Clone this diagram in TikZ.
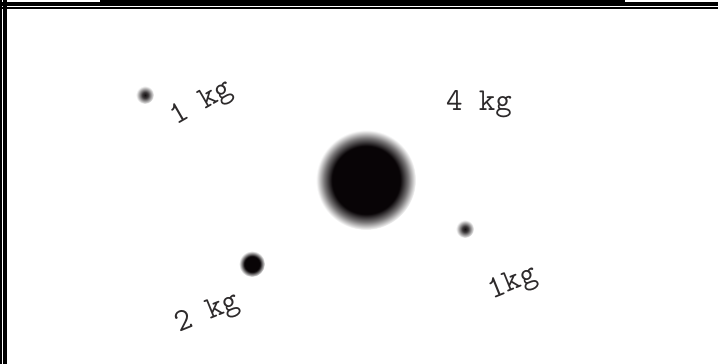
\documentclass[tikz,border=0pt]{standalone}
\usepackage{tikz}
\usetikzlibrary{positioning}
\definecolor{ink}{RGB}{8,4,6}
\pgfdeclareradialshading{bigblob}{\pgfpoint{0bp}{0bp}}{color(0bp)=(ink); color(17bp)=(ink); color(21bp)=(ink!55); color(25bp)=(white); color(50bp)=(white)}
\pgfdeclareradialshading{midblob}{\pgfpoint{0bp}{0bp}}{color(0bp)=(ink); color(15bp)=(ink); color(25bp)=(white); color(50bp)=(white)}
\pgfdeclareradialshading{smallblob}{\pgfpoint{0bp}{0bp}}{color(0bp)=(ink!95); color(8bp)=(ink!80); color(25bp)=(white); color(50bp)=(white)}
\tikzset{
  mass/.style ={circle, inner sep=0pt, draw=none},
  lbl/.style  ={font=\fontsize{32}{34}\selectfont\ttfamily, text=ink!85, inner sep=1pt},
  rim/.style  ={fill=black, draw=none},
}
\begin{document}
\begin{tikzpicture}[x=1pt,y=-1pt]
\useasboundingbox (0,0) rectangle (718,364);

% frame
\fill[rim] (0,0) rectangle (2.3,364);
\fill[rim] (3.3,0) rectangle (6.7,364);
\fill[rim] (0,2) rectangle (718,6);
\fill[rim] (0,7) rectangle (718,9);
\fill[rim] (100,0) rectangle (625,2);

% masses
\node[mass, minimum size=100pt, shading=bigblob] (m4) at (366,180) {};
\node[mass, minimum size=18pt, shading=smallblob] (m1a) at (145,95) {};
\node[mass, minimum size=18pt, shading=smallblob] (m1b) at (465,229) {};
\node[mass, minimum size=26pt, shading=midblob] (m2) at (252,264) {};

% labels
\node[lbl, rotate=30] (l1a) at (202,104) {1 kg};
\node[lbl] (l4) at (479,104) {4 kg};
\node[lbl, rotate=22] (l1b) at (513,284) {1kg};
\node[lbl, rotate=22] (l2) at (208,314) {2 kg};
\end{tikzpicture}
\end{document}
